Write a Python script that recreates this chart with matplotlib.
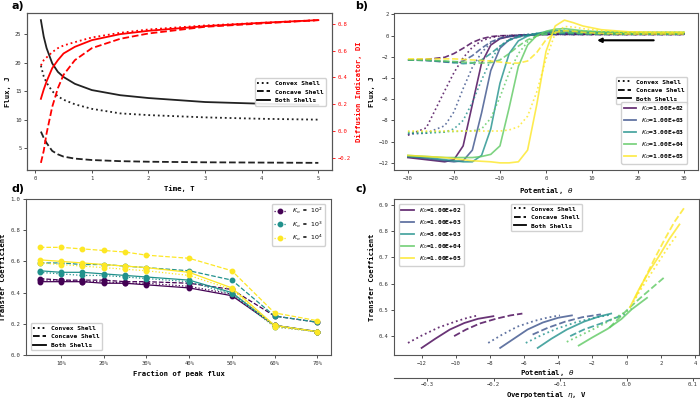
import matplotlib
matplotlib.use("Agg")
import matplotlib.pyplot as plt
from matplotlib.lines import Line2D

plt.rcParams.update({
    "font.family": "DejaVu Sans Mono", "font.size": 4.5,
    "axes.edgecolor": "#555555", "axes.linewidth": 0.8,
    "xtick.labelsize": 4, "ytick.labelsize": 4,
    "xtick.major.size": 2, "ytick.major.size": 2,
    "xtick.major.width": 0.6, "ytick.major.width": 0.6,
    "xtick.major.pad": 2, "ytick.major.pad": 2,
    "xtick.color": "#333333", "ytick.color": "#333333",
    "axes.labelsize": 5.2, "axes.labelweight": "bold", "axes.labelpad": 3,
})

# ---- panel a: flux / diffusion indicator vs time
TIME = [0.1, 0.15, 0.2, 0.3, 0.4, 0.5, 0.7, 1.0, 1.5, 2.0, 3.0, 4.0, 5.0]
FLUX_CONVEX = [19.5, 17.6, 16.5, 15.0, 14.1, 13.5, 12.7, 11.9, 11.1, 10.8, 10.4, 10.15, 10.0]
FLUX_CONCAVE = [7.9, 6.8, 5.9, 4.5, 3.9, 3.5, 3.15, 2.9, 2.7, 2.6, 2.5, 2.45, 2.4]
FLUX_BOTH = [27.5, 24.6, 22.6, 19.9, 18.4, 17.5, 16.3, 15.2, 14.3, 13.8, 13.1, 12.8, 12.6]
DI_CONVEX = [0.49, 0.53, 0.55, 0.59, 0.62, 0.64, 0.665, 0.70, 0.735, 0.76, 0.79, 0.81, 0.83]
DI_CONCAVE = [-0.24, -0.15, -0.02, 0.18, 0.32, 0.42, 0.53, 0.62, 0.69, 0.73, 0.78, 0.805, 0.83]
DI_BOTH = [0.24, 0.31, 0.37, 0.47, 0.53, 0.58, 0.63, 0.68, 0.725, 0.75, 0.785, 0.81, 0.83]

# ---- panel b: flux vs potential for five rate constants
K_LABELS = ["1.00E+02", "1.00E+03", "3.00E+03", "1.00E+04", "1.00E+05"]
K_COLORS = ["#440154", "#3b528b", "#21918c", "#5ec962", "#fde725"]
THETA_B = [-30, -26, -22, -20, -18, -16, -14, -12, -10, -8, -6, -4, -2, 0, 2, 4, 6, 8, 12, 18, 24, 30]
B_CONVEX = [
    [-9.4, -8.7, -5.2, -3.5, -2.1, -1.1, -0.5, -0.2, -0.05, 0.0, 0.02, 0.05, 0.08, 0.1, 0.1, 0.1, 0.1, 0.1, 0.1, 0.1, 0.1, 0.1],
    [-9.3, -9.2, -8.5, -7.2, -5.0, -3.0, -1.6, -0.7, -0.25, -0.05, 0.05, 0.1, 0.12, 0.15, 0.15, 0.15, 0.15, 0.15, 0.15, 0.15, 0.15, 0.15],
    [-9.2, -9.2, -9.1, -8.8, -8.0, -6.3, -4.2, -2.3, -1.0, -0.35, -0.05, 0.1, 0.2, 0.3, 0.35, 0.35, 0.3, 0.3, 0.25, 0.25, 0.25, 0.25],
    [-9.1, -9.1, -9.05, -9.05, -9.0, -9.0, -8.8, -7.8, -5.8, -3.5, -1.7, -0.6, 0.0, 0.35, 0.5, 0.5, 0.45, 0.4, 0.3, 0.3, 0.3, 0.3],
    [-9.0, -9.0, -9.0, -9.0, -9.0, -9.0, -9.0, -9.0, -9.0, -8.9, -8.6, -7.6, -5.3, -2.2, 0.2, 0.85, 0.8, 0.65, 0.45, 0.3, 0.3, 0.3],
]
B_CONCAVE = [
    [-2.3, -2.25, -2.05, -1.7, -1.2, -0.65, -0.3, -0.1, -0.02, 0.0, 0.03, 0.05, 0.08, 0.1, 0.1, 0.1, 0.1, 0.1, 0.1, 0.1, 0.1, 0.1],
    [-2.3, -2.35, -2.5, -2.55, -2.4, -1.9, -1.2, -0.6, -0.25, -0.08, 0.0, 0.05, 0.08, 0.1, 0.12, 0.12, 0.1, 0.1, 0.1, 0.1, 0.1, 0.1],
    [-2.3, -2.35, -2.45, -2.55, -2.65, -2.6, -2.3, -1.7, -1.0, -0.45, -0.15, 0.0, 0.1, 0.15, 0.2, 0.2, 0.18, 0.15, 0.15, 0.15, 0.15, 0.15],
    [-2.3, -2.32, -2.4, -2.45, -2.5, -2.55, -2.6, -2.55, -2.3, -1.7, -1.0, -0.4, -0.05, 0.15, 0.25, 0.3, 0.25, 0.2, 0.15, 0.15, 0.15, 0.15],
    [-2.2, -2.2, -2.2, -2.2, -2.25, -2.3, -2.35, -2.4, -2.5, -2.6, -2.6, -2.4, -1.6, -0.4, 0.3, 0.45, 0.4, 0.3, 0.2, 0.15, 0.15, 0.15],
]
B_BOTH = [
    [-11.5, -11.7, -11.9, -11.7, -10.4, -6.5, -2.6, -0.9, -0.3, -0.1, 0.0, 0.05, 0.1, 0.12, 0.15, 0.15, 0.15, 0.15, 0.15, 0.15, 0.15, 0.15],
    [-11.4, -11.6, -11.8, -11.9, -11.8, -10.8, -7.3, -3.3, -1.2, -0.4, -0.1, 0.05, 0.15, 0.25, 0.3, 0.3, 0.3, 0.25, 0.2, 0.2, 0.2, 0.2],
    [-11.4, -11.5, -11.7, -11.8, -11.9, -11.9, -11.3, -8.8, -4.5, -1.7, -0.5, -0.05, 0.2, 0.35, 0.45, 0.45, 0.4, 0.35, 0.3, 0.25, 0.25, 0.25],
    [-11.3, -11.4, -11.5, -11.5, -11.5, -11.5, -11.4, -11.2, -10.4, -6.8, -2.9, -0.9, 0.0, 0.4, 0.6, 0.65, 0.55, 0.45, 0.35, 0.3, 0.3, 0.3],
    [-11.3, -11.4, -11.5, -11.6, -11.7, -11.8, -11.85, -11.9, -12.0, -12.0, -11.9, -10.8, -6.5, -1.5, 0.9, 1.45, 1.2, 0.9, 0.55, 0.35, 0.3, 0.3],
]

# ---- panel c: transfer coefficient vs potential
C_CONVEX_X = [[-12.8, -12.0, -11.0, -10.0, -9.3, -8.7], [-8.1, -7.3, -6.4, -5.4, -4.6, -3.9],
              [-5.9, -5.0, -4.1, -3.0, -1.9, -0.9], [-3.5, -2.7, -1.9, -1.0, -0.2, 0.3],
              [0.4, 0.9, 1.5, 2.0, 2.5, 3.0]]
C_CONVEX_Y = [[0.374, 0.402, 0.433, 0.456, 0.470, 0.479], [0.374, 0.405, 0.436, 0.458, 0.471, 0.479],
              [0.374, 0.403, 0.428, 0.452, 0.470, 0.482], [0.378, 0.403, 0.428, 0.458, 0.487, 0.505],
              [0.530, 0.585, 0.645, 0.695, 0.745, 0.790]]
C_CONCAVE_X = [[-10.1, -9.4, -8.6, -7.6, -6.8, -6.1], [-5.5, -4.6, -3.6, -2.6, -1.5],
               [-3.3, -2.5, -1.5, -0.8, -0.1], [-1.0, -0.5, 0.1, 0.8, 1.6, 2.3],
               [0.5, 1.0, 1.6, 2.2, 2.8, 3.45]]
C_CONCAVE_Y = [[0.400, 0.425, 0.448, 0.467, 0.479, 0.486], [0.406, 0.432, 0.455, 0.472, 0.483],
               [0.400, 0.425, 0.448, 0.466, 0.483], [0.432, 0.465, 0.504, 0.545, 0.590, 0.629],
               [0.545, 0.610, 0.690, 0.765, 0.835, 0.896]]
C_BOTH_X = [[-12.0, -11.2, -10.35, -9.5, -8.7, -7.8], [-7.4, -6.6, -5.8, -4.9, -4.0, -3.2],
            [-5.2, -4.4, -3.5, -2.5, -1.6, -0.9], [-2.8, -2.0, -1.1, -0.3, 0.3, 1.2],
            [0.2, 0.7, 1.3, 1.9, 2.5, 3.1]]
C_BOTH_Y = [[0.355, 0.390, 0.425, 0.450, 0.466, 0.476], [0.355, 0.390, 0.425, 0.452, 0.470, 0.479],
            [0.355, 0.390, 0.425, 0.455, 0.475, 0.486], [0.364, 0.395, 0.428, 0.465, 0.502, 0.546],
            [0.510, 0.575, 0.645, 0.705, 0.770, 0.826]]
THETA_TO_ETA = 0.02569

# ---- panel d: transfer coefficient vs fraction of peak flux
FRACTION = [5, 10, 15, 20, 25, 30, 40, 50, 60, 70]
D_LABELS = [r"$K_o$ = $10^2$", r"$K_o$ = $10^3$", r"$K_o$ = $10^4$"]
D_COLORS = ["#440154", "#21918c", "#fde725"]
D_CONVEX = [[0.48, 0.48, 0.47, 0.47, 0.46, 0.46, 0.44, 0.39, 0.19, 0.15],
            [0.53, 0.52, 0.51, 0.51, 0.50, 0.49, 0.47, 0.39, 0.18, 0.15],
            [0.59, 0.58, 0.57, 0.56, 0.55, 0.54, 0.51, 0.42, 0.18, 0.15]]
D_CONCAVE = [[0.49, 0.48, 0.48, 0.48, 0.47, 0.47, 0.46, 0.42, 0.25, 0.21],
             [0.59, 0.59, 0.58, 0.58, 0.57, 0.56, 0.54, 0.48, 0.25, 0.21],
             [0.69, 0.69, 0.68, 0.67, 0.66, 0.64, 0.62, 0.54, 0.27, 0.22]]
D_BOTH = [[0.47, 0.47, 0.47, 0.46, 0.46, 0.45, 0.43, 0.38, 0.19, 0.15],
          [0.54, 0.53, 0.53, 0.52, 0.51, 0.50, 0.48, 0.40, 0.19, 0.15],
          [0.61, 0.60, 0.59, 0.58, 0.57, 0.56, 0.53, 0.43, 0.19, 0.15]]

SHELL_NAMES = ["Convex Shell", "Concave Shell", "Both Shells"]
SHELL_STYLES = [":", "--", "-"]
LEG = {"size": 4.5, "weight": "bold"}


def shell_legend(ax, **kw):
    hs = [Line2D([], [], color="k", ls=s, lw=1.3) for s in SHELL_STYLES]
    return ax.legend(hs, SHELL_NAMES, prop=LEG, framealpha=0.9, edgecolor="#cccccc", **kw)


fig = plt.figure(figsize=(7, 4), dpi=100)
ax_a = fig.add_axes([0.0386, 0.575, 0.436, 0.3925])
ax_b = fig.add_axes([0.563, 0.575, 0.434, 0.3925])
ax_d = fig.add_axes([0.037, 0.1125, 0.436, 0.39])
ax_c = fig.add_axes([0.563, 0.1125, 0.436, 0.39])

# a)
for y, s in zip([FLUX_CONVEX, FLUX_CONCAVE, FLUX_BOTH], SHELL_STYLES):
    ax_a.plot(TIME, y, color="#222222", ls=s, lw=1.3)
ax_a2 = ax_a.twinx()
for y, s in zip([DI_CONVEX, DI_CONCAVE, DI_BOTH], SHELL_STYLES):
    ax_a2.plot(TIME, y, color="red", ls=s, lw=1.3)
ax_a.set_xlabel("Time, T"); ax_a.set_ylabel("Flux, J")
ax_a2.set_ylabel("Diffusion Indicator, DI", color="red")
ax_a2.tick_params(axis="y", colors="red")
ax_a2.spines["right"].set_color("#555555")
shell_legend(ax_a2, loc="lower right", bbox_to_anchor=(0.99, 0.39))

# b)
for i in range(5):
    for data, s in zip([B_CONVEX[i], B_CONCAVE[i], B_BOTH[i]], SHELL_STYLES):
        ax_b.plot(THETA_B, data, color=K_COLORS[i], ls=s, lw=1.2, alpha=0.8)
ax_b.annotate("", xy=(10.5, -0.45), xytext=(24, -0.45),
              arrowprops=dict(arrowstyle="-|>", color="k", lw=1.5, mutation_scale=6))
ax_b.set_xlabel(r"Potential, $\theta$"); ax_b.set_ylabel("Flux, J")
leg1 = shell_legend(ax_b, loc="lower right", bbox_to_anchor=(0.975, 0.40))
ax_b.add_artist(leg1)
kh = [Line2D([], [], color=c, lw=1.3, alpha=0.8) for c in K_COLORS]
ax_b.legend(kh, [r"$K_O$=" + k for k in K_LABELS], prop=LEG, loc="lower right",
            bbox_to_anchor=(0.975, 0.02), framealpha=0.9, edgecolor="#cccccc")

# c)
for i in range(5):
    ax_c.plot(C_CONVEX_X[i], C_CONVEX_Y[i], color=K_COLORS[i], ls=":", lw=1.3, alpha=0.8)
    ax_c.plot(C_CONCAVE_X[i], C_CONCAVE_Y[i], color=K_COLORS[i], ls="--", lw=1.3, alpha=0.8)
    ax_c.plot(C_BOTH_X[i], C_BOTH_Y[i], color=K_COLORS[i], ls="-", lw=1.3, alpha=0.8)
ax_c.set_xticks(range(-12, 5, 2))
ax_c.set_xlabel(r"Potential, $\theta$", labelpad=1); ax_c.set_ylabel("Transfer Coefficient")
leg1 = ax_c.legend(kh, [r"$K_0$=" + k for k in K_LABELS], prop=LEG, loc="upper left",
                   bbox_to_anchor=(0.005, 0.99), framealpha=0.9, edgecolor="#cccccc")
ax_c.add_artist(leg1)
shell_legend(ax_c, loc="upper center", bbox_to_anchor=(0.5, 0.99))
sec = ax_c.secondary_xaxis(-0.145, functions=(lambda t: t * THETA_TO_ETA, lambda e: e / THETA_TO_ETA))
sec.set_xticks([-0.3, -0.2, -0.1, 0.0, 0.1])
sec.tick_params(pad=1.5)
sec.set_xlabel(r"Overpotential $\eta$, V", fontsize=5.2, fontweight="bold", labelpad=1)
sec.spines["bottom"].set_color("#555555")

# d)
for i in range(3):
    ax_d.plot(FRACTION, D_CONVEX[i], color=D_COLORS[i], ls=":", lw=0.9, marker="o", ms=3.2, label=D_LABELS[i])
    ax_d.plot(FRACTION, D_CONCAVE[i], color=D_COLORS[i], ls="--", lw=0.9, marker="o", ms=3.2)
    ax_d.plot(FRACTION, D_BOTH[i], color=D_COLORS[i], ls="-", lw=0.9, marker="o", ms=3.2)
ax_d.set_ylim(0, 1.0)
ax_d.set_yticks([0.0, 0.2, 0.4, 0.6, 0.8, 1.0])
ax_d.set_xticks([10, 20, 30, 40, 50, 60, 70])
ax_d.set_xticklabels([f"{v}%" for v in [10, 20, 30, 40, 50, 60, 70]])
ax_d.set_xlabel("Fraction of peak flux"); ax_d.set_ylabel("Transfer Coefficient")
leg1 = ax_d.legend(prop=LEG, loc="upper right", bbox_to_anchor=(0.99, 0.99),
                   framealpha=0.9, edgecolor="#cccccc")
ax_d.add_artist(leg1)
shell_legend(ax_d, loc="lower left", bbox_to_anchor=(0.005, 0.01))

for lab, x, y in [("a)", 0.016, 0.997), ("b)", 0.508, 0.997), ("d)", 0.016, 0.54), ("c)", 0.508, 0.54)]:
    fig.text(x, y, lab, fontsize=8, fontweight="bold", family="DejaVu Sans", va="top")

fig.savefig("out.png", dpi=100)
